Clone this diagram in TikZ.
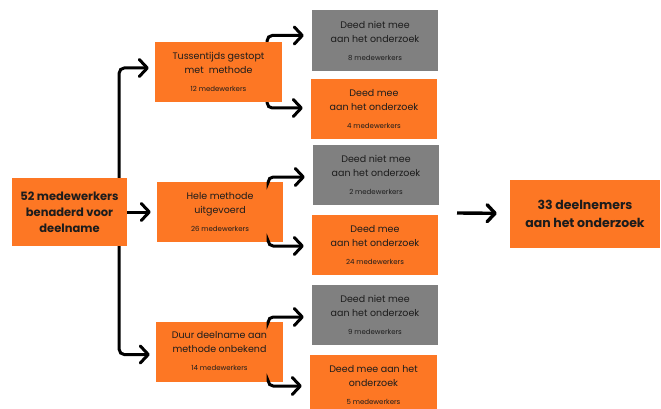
\documentclass[tikz,border=0pt]{standalone}
\usepackage{fontspec}
\setmainfont{Poppins}
\usetikzlibrary{arrows.meta, positioning}
\definecolor{ndoranje}{HTML}{FD7724}
\definecolor{ndgrijs}{HTML}{808080}
\definecolor{ndtekst}{HTML}{1C1C1C}
\newcommand{\aantal}[1]{\\[4pt]{\fontsize{7}{8}\selectfont #1}}

\begin{document}
\begin{tikzpicture}[x=1pt, y=-1pt, font=\fontsize{9.5}{14}\selectfont, text=ndtekst,
          blok/.style={fill=ndoranje, minimum width=126pt, minimum height=60pt, inner sep=2pt, align=center},
          grijsblok/.style={blok, fill=ndgrijs},
          hoofd/.style={blok, font=\fontsize{11.5}{16}\selectfont\bfseries},
          pijl/.style={-{Straight Barb[round, length=8pt, width=17pt]}, line width=3pt, black, rounded corners=5pt, shorten >=6pt}]
          \useasboundingbox (0,0) rectangle (661,409);
          \node[hoofd, minimum width=115pt, minimum height=68pt] (start) at (69.5,212) {52 medewerkers\\benaderd voor\\deelname};
          \node[blok, minimum width=127pt] (m1) at (218.5,72) {Tussentijds gestopt\\met~~methode\aantal{12 medewerkers}};
          \node[blok] (m2) at (220,212) {Hele methode\\uitgevoerd\aantal{26 medewerkers}};
          \node[blok, minimum width=127pt] (m3) at (219.5,351.5) {Duur deelname aan\\methode onbekend\aantal{14 medewerkers}};
          \node[grijsblok, minimum height=61pt] (r1) at (375,40.5) {Deed niet mee\\aan het onderzoek\aantal{8 medewerkers}};
          \node[blok] (r2) at (374,109) {Deed mee\\aan het onderzoek\aantal{4 medewerkers}};
          \node[grijsblok] (r3) at (376,175) {Deed niet mee\\aan het onderzoek\aantal{2 medewerkers}};
          \node[blok] (r4) at (375,245) {Deed mee\\aan het onderzoek\aantal{24 medewerkers}};
          \node[grijsblok] (r5) at (375,315) {Deed niet mee\\aan het onderzoek\aantal{9 medewerkers}};
          \node[blok, minimum width=127pt] (r6) at (373.5,385) {Deed mee aan het\\onderzoek\aantal{5 medewerkers}};
          \node[hoofd, minimum width=150pt, minimum height=68pt, font=\fontsize{12.5}{18}\selectfont\bfseries] (eind) at (585,214) {33 deelnemers\\aan het onderzoek};
          \draw[pijl] ([xshift=-8pt]start.north east) |- ([yshift=4pt]m1.west);
          \draw[pijl] (start) -- (m2);
          \draw[pijl] ([xshift=-8pt]start.south east) |- ([yshift=-3pt]m3.west);
          \draw[pijl, shorten >=8pt] ([xshift=-15pt]m1.north east) |- ([yshift=5pt]r1.west);
          \draw[pijl, shorten >=8pt] ([xshift=-15pt]m1.south east) |- ([yshift=1pt]r2.west);
          \draw[pijl, shorten >=8pt] ([xshift=-15pt]m2.north east) |- ([yshift=-2pt]r3.west);
          \draw[pijl, shorten >=8pt] ([xshift=-15pt]m2.south east) |- ([yshift=-1pt]r4.west);
          \draw[pijl, shorten >=8pt] ([xshift=-15pt]m3.north east) |- ([yshift=-2pt]r5.west);
          \draw[pijl, shorten >=8pt] ([xshift=-15pt]m3.south east) |- ([yshift=-1pt]r6.west);
          \coordinate (pijlbegin) at (457,213);
          \draw[pijl, line width=3.4pt, shorten >=13pt] (pijlbegin) -- (eind);
        \end{tikzpicture}
\end{document}
